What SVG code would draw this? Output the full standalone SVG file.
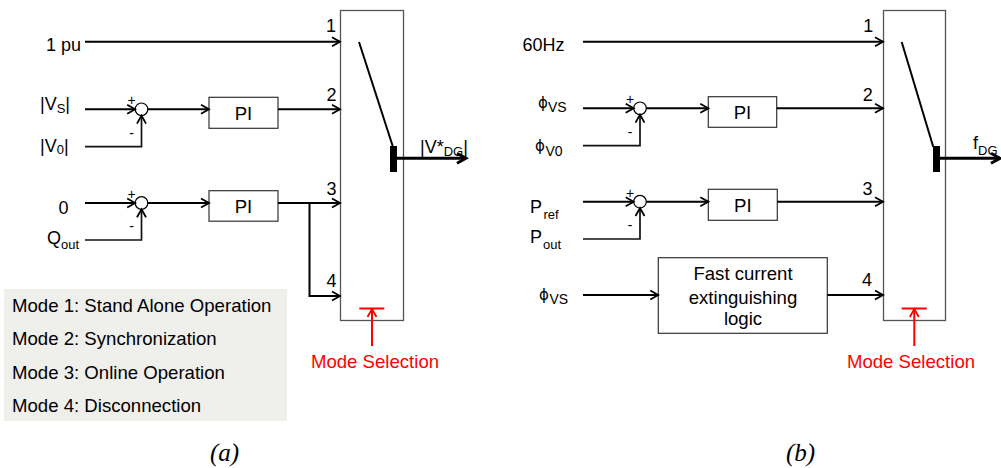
<svg xmlns="http://www.w3.org/2000/svg" width="1001" height="468" viewBox="0 0 1001 468">
<defs>
<style>
text{font-family:"Liberation Sans",Arial,sans-serif;font-size:18px;fill:#000}
.big{font-size:18.6px}
.sub{font-size:13px}
.sm{font-size:14px}
.red{fill:#ff0000}
.cap{font-family:"Liberation Serif","Times New Roman",serif;font-style:italic;font-size:25px}
.phi{font-family:"DejaVu Sans",sans-serif;font-size:15px}
.ln{stroke:#000;stroke-width:2;fill:none}
.fb{stroke:#111;stroke-width:1.7;fill:none}
.thick{stroke:#000;stroke-width:3;fill:none}
.box{fill:#fff;stroke:#333;stroke-width:1.2}
.sw{fill:#fff;stroke:#555;stroke-width:1.3}
.sum{fill:#fff;stroke:#000;stroke-width:1.2}
.rl{stroke:#ff0000;stroke-width:2;fill:none}
</style>
<marker id="ah" markerUnits="userSpaceOnUse" markerWidth="12" markerHeight="12" viewBox="0 0 12 12" refX="10" refY="6" orient="auto"><path d="M2,1.5 L10,6 L2,10.5" fill="none" stroke="#000" stroke-width="1.8"/></marker>
<marker id="ahT" markerUnits="userSpaceOnUse" markerWidth="14" markerHeight="14" viewBox="0 0 14 14" refX="11" refY="7" orient="auto"><path d="M2,2 L11,7 L2,12" fill="none" stroke="#000" stroke-width="3"/></marker>
<marker id="ahR" markerUnits="userSpaceOnUse" markerWidth="12" markerHeight="12" viewBox="0 0 12 12" refX="10" refY="6" orient="auto"><path d="M2,1.5 L10,6 L2,10.5" fill="none" stroke="#ff0000" stroke-width="1.8"/></marker>
</defs>

<!-- Panel (a) -->
<g id="legend-a">
<rect x="4" y="289" width="283" height="132" fill="#efefec"/>
<text class="big" x="12" y="312">Mode 1: Stand Alone Operation</text>
<text class="big" x="12" y="345">Mode 2: Synchronization</text>
<text class="big" x="12" y="379">Mode 3: Online Operation</text>
<text class="big" x="12" y="412">Mode 4: Disconnection</text>
</g>

<g id="switch-a">
<rect class="sw" x="340.5" y="10.5" width="63" height="310"/>
<line class="ln" x1="359" y1="42" x2="393" y2="147"/>
<rect x="390" y="146" width="7" height="26" fill="#000"/>
</g>

<g id="sum1-a"><circle class="sum" cx="141.5" cy="109.3" r="6.3"/>
<text class="sm" x="131.5" y="105" text-anchor="middle">+</text>
<text class="sm" x="131.5" y="138" text-anchor="middle">-</text></g>
<g id="sum2-a"><circle class="sum" cx="141.5" cy="203" r="6.3"/>
<text class="sm" x="131.5" y="198.5" text-anchor="middle">+</text>
<text class="sm" x="131.5" y="230.5" text-anchor="middle">-</text></g>

<g id="pi1-a"><rect class="box" x="209" y="97.3" width="69" height="31"/><text class="big" x="243.5" y="119.5" text-anchor="middle">PI</text></g>
<g id="pi2-a"><rect class="box" x="209" y="190.7" width="69" height="30.5"/><text class="big" x="243.5" y="213" text-anchor="middle">PI</text></g>

<g id="labels-a">
<text x="81" y="51" text-anchor="end">1 pu</text>
<text x="40" y="110">|V<tspan class="sub" dy="3">S</tspan><tspan dy="-3">|</tspan></text>
<text x="40" y="152">|V<tspan class="sub" dy="2">0</tspan><tspan dy="-2">|</tspan></text>
<text x="63.5" y="213.5" text-anchor="middle">0</text>
<text x="47" y="244">Q<tspan class="sub" dy="5">out</tspan></text>
<text x="331" y="32" text-anchor="middle">1</text>
<text x="331.5" y="101" text-anchor="middle">2</text>
<text x="331.5" y="195" text-anchor="middle">3</text>
<text x="331.5" y="287" text-anchor="middle">4</text>
<text x="420" y="153">|V*<tspan class="sub" dy="3">DG</tspan><tspan dy="-3">|</tspan></text>
<text class="red big" x="375" y="368" text-anchor="middle">Mode Selection</text>
<text class="cap" x="224.5" y="461" text-anchor="middle">(a)</text>
</g>

<!-- Panel (b) -->
<g id="switch-b">
<rect class="sw" x="883.5" y="10.5" width="62" height="310"/>
<line class="ln" x1="901.7" y1="42" x2="933.3" y2="147"/>
<rect x="933" y="146" width="7" height="26" fill="#000"/>
</g>

<g id="sum1-b"><circle class="sum" cx="640" cy="108.3" r="6.3"/>
<text class="sm" x="630" y="104" text-anchor="middle">+</text>
<text class="sm" x="630" y="137" text-anchor="middle">-</text></g>
<g id="sum2-b"><circle class="sum" cx="640" cy="201.7" r="6.3"/>
<text class="sm" x="630" y="197.5" text-anchor="middle">+</text>
<text class="sm" x="630" y="229.5" text-anchor="middle">-</text></g>

<g id="pi1-b"><rect class="box" x="708.3" y="96.7" width="68.4" height="30.6"/><text class="big" x="742.5" y="119" text-anchor="middle">PI</text></g>
<g id="pi2-b"><rect class="box" x="708.3" y="189.3" width="69" height="31"/><text class="big" x="742.8" y="211.5" text-anchor="middle">PI</text></g>
<g id="fcel-b"><rect class="box" x="658.3" y="257.7" width="169" height="75.6"/>
<text class="big" x="743" y="280" text-anchor="middle">Fast current</text>
<text class="big" x="743" y="303.5" text-anchor="middle">extinguishing</text>
<text class="big" x="743" y="324.5" text-anchor="middle">logic</text></g>

<g id="labels-b">
<text x="564.5" y="51" text-anchor="end">60Hz</text>
<text class="phi" x="538" y="108">ϕ</text><text class="sm" x="548" y="111.7">VS</text>
<text class="phi" x="535" y="151">ϕ</text><text class="sm" x="545.5" y="156">V0</text>
<text x="530" y="212.7">P</text><text class="sub" x="543.5" y="218.5">ref</text>
<text x="530" y="242.7">P</text><text class="sub" x="543" y="248.5">out</text>
<text class="phi" x="539" y="300">ϕ</text><text class="sm" x="549.5" y="304">VS</text>
<text x="868.3" y="32" text-anchor="middle">1</text>
<text x="867.7" y="100.5" text-anchor="middle">2</text>
<text x="867.5" y="194.5" text-anchor="middle">3</text>
<text x="867" y="286" text-anchor="middle">4</text>
<text x="973" y="149">f<tspan class="sub" dy="6">DG</tspan></text>
<text class="red big" x="911" y="368" text-anchor="middle">Mode Selection</text>
<text class="cap" x="800.5" y="461" text-anchor="middle">(b)</text>
</g>

<g id="connectors">
<!-- (a) -->
<line class="ln" x1="85" y1="41.7" x2="340" y2="41.7" marker-end="url(#ah)"/>
<line class="ln" x1="85" y1="109.3" x2="135.2" y2="109.3" marker-end="url(#ah)"/>
<polyline class="fb" points="85,146.7 141.5,146.7 141.5,115.6" marker-end="url(#ah)"/>
<line class="ln" x1="147.8" y1="109.3" x2="209" y2="109.3" marker-end="url(#ah)"/>
<line class="ln" x1="278" y1="109.3" x2="340" y2="109.3" marker-end="url(#ah)"/>
<line class="ln" x1="85" y1="203" x2="135.2" y2="203" marker-end="url(#ah)"/>
<polyline class="fb" points="85,240 141.5,240 141.5,209.3" marker-end="url(#ah)"/>
<line class="ln" x1="147.8" y1="203" x2="209" y2="203" marker-end="url(#ah)"/>
<line class="ln" x1="278" y1="203" x2="340" y2="203" marker-end="url(#ah)"/>
<polyline class="ln" points="309.5,203 309.5,296 340,296" marker-end="url(#ah)"/>
<line class="thick" x1="397" y1="158.3" x2="466" y2="158.3" marker-end="url(#ahT)"/>
<line class="rl" x1="359.3" y1="308.5" x2="384.3" y2="308.5"/>
<line class="rl" x1="372" y1="346" x2="372" y2="309" marker-end="url(#ahR)"/>
<!-- (b) -->
<line class="ln" x1="583" y1="41.7" x2="883" y2="41.7" marker-end="url(#ah)"/>
<line class="ln" x1="583" y1="108.3" x2="633.7" y2="108.3" marker-end="url(#ah)"/>
<polyline class="fb" points="583,145.7 640,145.7 640,114.6" marker-end="url(#ah)"/>
<line class="ln" x1="646.3" y1="108.3" x2="708.3" y2="108.3" marker-end="url(#ah)"/>
<line class="ln" x1="776.7" y1="108.3" x2="883" y2="108.3" marker-end="url(#ah)"/>
<line class="ln" x1="583" y1="201.7" x2="633.7" y2="201.7" marker-end="url(#ah)"/>
<polyline class="fb" points="583,239 640,239 640,208" marker-end="url(#ah)"/>
<line class="ln" x1="646.3" y1="201.7" x2="708.3" y2="201.7" marker-end="url(#ah)"/>
<line class="ln" x1="777.3" y1="201.7" x2="883" y2="201.7" marker-end="url(#ah)"/>
<line class="ln" x1="583" y1="295" x2="658.3" y2="295" marker-end="url(#ah)"/>
<line class="ln" x1="827.3" y1="295" x2="883" y2="295" marker-end="url(#ah)"/>
<line class="thick" x1="940" y1="158.3" x2="1000" y2="158.3" marker-end="url(#ahT)"/>
<line class="rl" x1="901.7" y1="308.5" x2="926.7" y2="308.5"/>
<line class="rl" x1="914.3" y1="346" x2="914.3" y2="309" marker-end="url(#ahR)"/>
</g>
</svg>
